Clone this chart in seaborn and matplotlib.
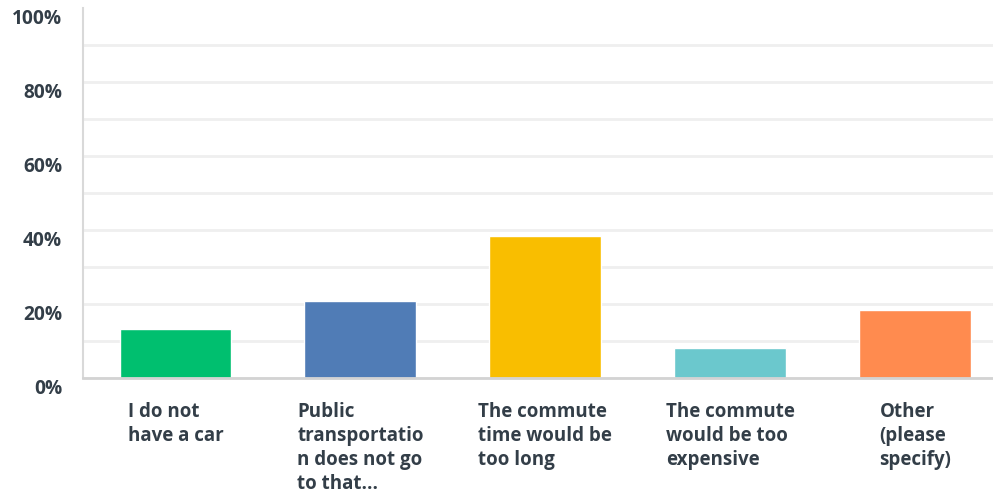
import matplotlib
matplotlib.use("Agg")
import matplotlib.pyplot as plt
import matplotlib.transforms as mtransforms
import seaborn as sns
import pandas as pd

categories = [
    "I do not\nhave a car",
    "Public\ntransportatio\nn does not go\nto that...",
    "The commute\ntime would be\ntoo long",
    "The commute\nwould be too\nexpensive",
    "Other\n(please\nspecify)",
]
values = [13.2, 20.8, 38.3, 8.1, 18.4]
colors = ["#00bf6f", "#507cb6", "#f9be00", "#6bc8cd", "#ff8b4f"]
ytick_vals = list(range(0, 101, 10))
ytick_labels = [f"{v}%" if v % 20 == 0 else "" for v in ytick_vals]

sns.set_theme(style="white")
plt.rcParams["font.family"] = ["Open Sans", "DejaVu Sans"]
text_color = "#333e48"

df = pd.DataFrame({"cat": categories, "val": values})

fig = plt.figure(figsize=(9.93, 5.0), dpi=100)
ax = fig.add_axes([83 / 993, 1 - 378 / 500, 910 / 993, 370.5 / 500])

sns.barplot(data=df, x="cat", y="val", hue="cat", palette=colors,
            width=0.605, legend=False, ax=ax, saturation=1)

ax.set_xlim(-0.5, 4.42)
ax.set_ylim(0, 100)
ax.set_xlabel("")
ax.set_ylabel("")

ax.set_yticks(ytick_vals)
ax.set_yticklabels(ytick_labels, fontsize=13.8, fontweight="bold", color=text_color)
ax.yaxis.grid(True, color="#efefef", linewidth=2)
ax.set_axisbelow(True)
gl = ax.get_ygridlines()
gl[-1].set_visible(False)
ax.tick_params(axis="y", length=0, pad=15)
offset = mtransforms.ScaledTranslation(0, -9 / 100, fig.dpi_scale_trans)
for lab in ax.get_yticklabels():
    lab.set_transform(lab.get_transform() + offset)

ax.set_xticks(range(len(categories)))
ax.set_xticklabels(categories, fontsize=13.5, fontweight="bold", color=text_color,
                   multialignment="left", linespacing=1.25)
ax.tick_params(axis="x", length=0, pad=17.5)

for s in ["top", "right"]:
    ax.spines[s].set_visible(False)
ax.spines["left"].set_color("#d9d9d9")
ax.spines["left"].set_linewidth(1.5)
ax.spines["bottom"].set_color("#d3d3d3")
ax.spines["bottom"].set_linewidth(2)

fig.savefig("out.png", dpi=100)
